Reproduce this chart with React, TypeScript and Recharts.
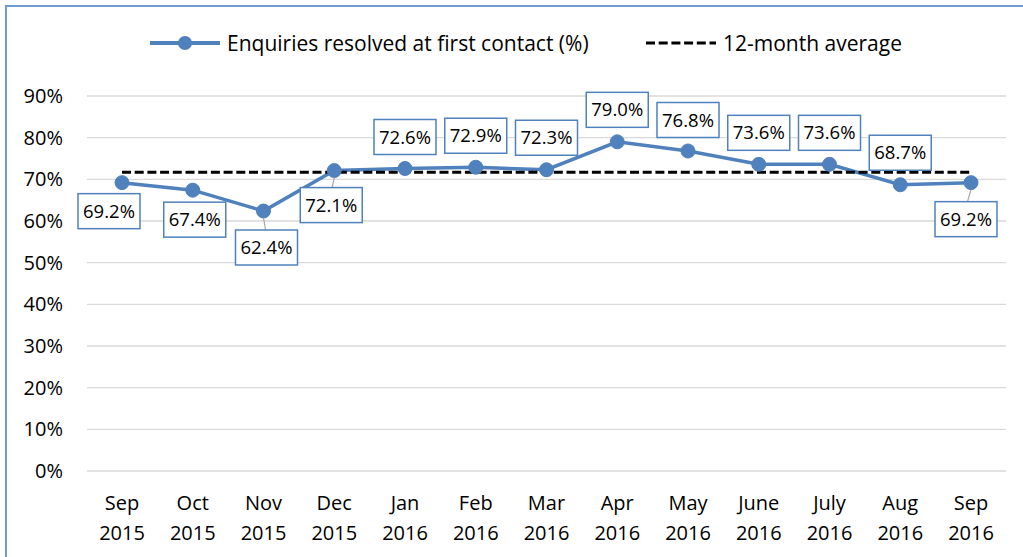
import React from 'react';
import { LineChart, Line, XAxis, YAxis, CartesianGrid, Legend, LabelList } from 'recharts';

const months = [
  'Sep 2015', 'Oct 2015', 'Nov 2015', 'Dec 2015', 'Jan 2016', 'Feb 2016', 'Mar 2016',
  'Apr 2016', 'May 2016', 'June 2016', 'July 2016', 'Aug 2016', 'Sep 2016',
];
const resolvedPct = [69.2, 67.4, 62.4, 72.1, 72.6, 72.9, 72.3, 79.0, 76.8, 73.6, 73.6, 68.7, 69.2];
const averagePct = [71.7, 71.7, 71.7, 71.7, 71.7, 71.7, 71.7, 71.7, 71.7, 71.7, 71.7, 71.7, 71.7];
const yTicks = [0, 10, 20, 30, 40, 50, 60, 70, 80, 90];
const seriesNames = ['Enquiries resolved at first contact (%)', '12-month average'];

// label placement (layout only): offset of label box centre from the point
const labelOffsets: [number, number][] = [
  [-13, 28.5], [2, 29.5], [3, 36.5], [-3, 34.5], [0, -31.5], [0, -31.5], [0, -32],
  [0, -32], [0, -31], [0, -31.5], [0, -31.5], [0, -32], [-5, 36.5],
];
const leaderIdx = [2, 3, 12];

const BLUE = '#4f81bd';
const FONT = '"Open Sans", sans-serif';

const data = months.map((m, i) => ({ month: m, resolved: resolvedPct[i], average: averagePct[i] }));

const XTick = (props: any) => {
  const { x, y, payload } = props;
  const parts = String(payload.value).split(' ');
  return (
    <g>
      <text x={x} y={y + 39} textAnchor="middle" fontSize={20} fontFamily={FONT} fill="#000">{parts[0]}</text>
      <text x={x} y={y + 69} textAnchor="middle" fontSize={20} fontFamily={FONT} fill="#000">{parts[1]}</text>
    </g>
  );
};

const PointLabel = (props: any) => {
  const { x, y, value, index } = props;
  if (x == null || y == null) return null;
  const [dx, dy] = labelOffsets[index] || [0, -32];
  const w = 62;
  const h = 35;
  const cx = x + dx;
  const cy = y + dy;
  const hasLeader = leaderIdx.includes(index);
  const boxTop = cy - h / 2;
  return (
    <g>
      {hasLeader && (
        <line x1={x} y1={y + 7} x2={cx + (x - cx) * 0.3} y2={boxTop} stroke="#a6a6a6" strokeWidth={1.2} />
      )}
      <rect x={cx - w / 2} y={boxTop} width={w} height={h} fill="#fff" stroke={BLUE} strokeWidth={1.5} />
      <text x={cx} y={cy + 6.5} textAnchor="middle" fontSize={18.5} fontFamily={FONT} fill="#000">
        {Number(value).toFixed(1)}%
      </text>
    </g>
  );
};

const LegendContent = () => (
  <svg width={1023} height={40} style={{ display: 'block' }}>
    <line x1={150} y1={20} x2={220} y2={20} stroke={BLUE} strokeWidth={4} />
    <circle cx={185} cy={20} r={7} fill={BLUE} />
    <text x={227} y={27.5} fontSize={21} fontFamily={FONT} fill="#000">{seriesNames[0]}</text>
    <line x1={646} y1={20} x2={716} y2={20} stroke="#000" strokeWidth={3} strokeDasharray="9 3.7" />
    <text x={723} y={27.5} fontSize={21} fontFamily={FONT} fill="#000">{seriesNames[1]}</text>
  </svg>
);

export default function App() {
  return (
    <div style={{ position: 'fixed', left: 0, top: 0, width: 1023, height: 557, overflow: 'hidden', background: '#fff' }}>
      <div
        style={{
          position: 'absolute', left: 5, top: 5, width: 1060, height: 600,
          border: '2px solid #6f9bd1', boxSizing: 'border-box',
        }}
      />
      <div style={{ position: 'absolute', left: 0, top: 0 }}>
        <LineChart
          width={1023}
          height={557}
          data={data}
          margin={{ top: 96, right: 17, bottom: 0, left: 0 }}
          style={{ fontFamily: FONT }}
        >
          <CartesianGrid horizontal vertical={false} stroke="#d9d9d9" strokeWidth={1.3} />
          <XAxis
            dataKey="month"
            height={86}
            axisLine={false}
            tickLine={false}
            tickSize={0}
            tickMargin={0}
            padding={{ left: 35, right: 35 }}
            tick={<XTick />}
            interval={0}
          />
          <YAxis
            width={87}
            domain={[0, 90]}
            ticks={yTicks}
            axisLine={false}
            tickLine={false}
            tickSize={0}
            tickMargin={24}
            tickFormatter={(v: number) => `${v}%`}
            tick={{ fontSize: 20, fill: '#000', fontFamily: FONT }}
          />
          <Legend
            layout="vertical"
            verticalAlign="middle"
            align="center"
            wrapperStyle={{ top: 23, left: 0, width: 1023, height: 40 }}
            content={<LegendContent />}
          />
          <Line
            type="linear"
            dataKey="resolved"
            name={seriesNames[0]}
            stroke={BLUE}
            strokeWidth={3.5}
            dot={{ r: 7, fill: BLUE, stroke: BLUE, strokeWidth: 1 }}
            activeDot={false}
            isAnimationActive={false}
          >
            <LabelList dataKey="resolved" content={<PointLabel />} />
          </Line>
          <Line
            type="linear"
            dataKey="average"
            name={seriesNames[1]}
            stroke="#000"
            strokeWidth={3}
            strokeDasharray="9 3.7"
            dot={false}
            activeDot={false}
            isAnimationActive={false}
          />
        </LineChart>
      </div>
    </div>
  );
}
